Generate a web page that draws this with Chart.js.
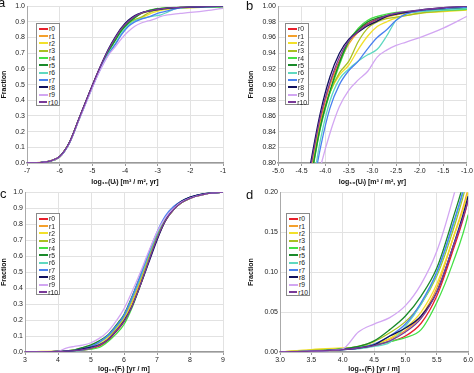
<!DOCTYPE html>
<html>
<head>
<meta charset="utf-8">
<script src="https://cdn.jsdelivr.net/npm/chart.js@4.4.0/dist/chart.umd.min.js"></script>
<style>
body { margin: 0; background: #fff; width: 474px; height: 373px; overflow: hidden; position: relative; font-family: "Liberation Sans", Arial, sans-serif; }
canvas { position: absolute; }
.letter { position: absolute; font-size: 13px; color: #111; line-height: 1; }
.legend { position: absolute; border: 1px solid #8a8a8a; background: #fff; box-sizing: border-box; padding: 1px 1px 0 2px; }
.row { height: 7.35px; display: flex; align-items: center; font-size: 6.8px; color: #222; white-space: nowrap; }
.sw { display: inline-block; width: 9px; height: 2px; margin-right: 1px; }
</style>
</head>
<body>
<canvas id="chartA" width="237" height="186" style="left:0;top:0"></canvas>
<canvas id="chartB" width="237" height="186" style="left:237px;top:0"></canvas>
<canvas id="chartC" width="237" height="187" style="left:0;top:186px"></canvas>
<canvas id="chartD" width="237" height="187" style="left:237px;top:186px"></canvas>
<div class="letter" style="left:-2px;top:-4px">a</div>
<div class="letter" style="left:246px;top:-1px">b</div>
<div class="letter" style="left:0;top:187px">c</div>
<div class="letter" style="left:246px;top:188px">d</div>
<script>
// ---------- SERIES ----------
const seriesNames = ['r0', 'r1', 'r2', 'r3', 'r4', 'r5', 'r6', 'r7', 'r8', 'r9', 'r10'];
const seriesColors = ['#e8202c', '#f5a02a', '#f2e02a', '#a8c020', '#44e044', '#1a8a2a',
                      '#5fd8c0', '#4a80f0', '#10105e', '#d2a6f2', '#7a3a98'];

// ---------- log10(U) data (panels a, b) ----------
const uX = [-7, -6.6, -6.3, -6.0, -5.7, -5.4, -5.1, -4.8, -4.5, -4.3, -4.1, -3.9, -3.7,
            -3.5, -3.3, -3.1, -2.9, -2.7, -2.5, -2.3, -2.0, -1.5, -1.0];
const u_r0 = [0, 0.003, 0.012, 0.04, 0.13, 0.285, 0.44, 0.59, 0.72, 0.79, 0.855, 0.9, 0.93, 0.955, 0.97, 0.978, 0.984, 0.988, 0.99, 0.992, 0.994, 0.997, 0.999];
const u_r1 = [0, 0.004, 0.013, 0.042, 0.132, 0.286, 0.44, 0.59, 0.72, 0.795, 0.858, 0.9, 0.928, 0.952, 0.967, 0.976, 0.982, 0.986, 0.989, 0.991, 0.993, 0.995, 0.996];
const u_r2 = [0, 0.003, 0.012, 0.04, 0.13, 0.284, 0.44, 0.588, 0.718, 0.79, 0.85, 0.89, 0.912, 0.925, 0.945, 0.962, 0.974, 0.98, 0.985, 0.988, 0.991, 0.993, 0.995];
const u_r3 = [0, 0.003, 0.012, 0.04, 0.13, 0.284, 0.438, 0.586, 0.715, 0.785, 0.848, 0.89, 0.915, 0.93, 0.955, 0.972, 0.98, 0.984, 0.986, 0.988, 0.991, 0.994, 0.996];
const u_r4 = [0, 0.003, 0.012, 0.04, 0.13, 0.284, 0.438, 0.586, 0.712, 0.78, 0.845, 0.89, 0.925, 0.955, 0.972, 0.982, 0.987, 0.99, 0.992, 0.993, 0.994, 0.995, 0.996];
const u_r5 = [0, 0.003, 0.012, 0.04, 0.13, 0.285, 0.44, 0.588, 0.714, 0.782, 0.847, 0.892, 0.928, 0.956, 0.97, 0.98, 0.985, 0.988, 0.99, 0.992, 0.994, 0.996, 0.998];
const u_r6 = [0, 0.003, 0.012, 0.04, 0.128, 0.282, 0.435, 0.582, 0.7, 0.76, 0.83, 0.879, 0.907, 0.92, 0.93, 0.938, 0.945, 0.962, 0.982, 0.99, 0.993, 0.995, 0.997];
const u_r7 = [0, 0.003, 0.012, 0.039, 0.127, 0.28, 0.432, 0.578, 0.695, 0.755, 0.82, 0.87, 0.9, 0.918, 0.93, 0.946, 0.96, 0.97, 0.982, 0.99, 0.994, 0.997, 0.999];
const u_r8 = [0, 0.003, 0.012, 0.041, 0.132, 0.288, 0.445, 0.595, 0.73, 0.803, 0.865, 0.91, 0.94, 0.958, 0.967, 0.975, 0.981, 0.987, 0.99, 0.992, 0.995, 0.998, 1.0];
const u_r9 = [0, 0.003, 0.012, 0.04, 0.128, 0.28, 0.43, 0.575, 0.69, 0.74, 0.795, 0.838, 0.872, 0.893, 0.906, 0.917, 0.935, 0.944, 0.95, 0.954, 0.96, 0.972, 0.987];
const u_r10 = [0, 0.003, 0.012, 0.041, 0.131, 0.287, 0.443, 0.593, 0.725, 0.797, 0.86, 0.903, 0.935, 0.956, 0.968, 0.977, 0.983, 0.988, 0.991, 0.993, 0.995, 0.998, 1.0];
const uSeries = [u_r0, u_r1, u_r2, u_r3, u_r4, u_r5, u_r6, u_r7, u_r8, u_r9, u_r10];

// ---------- log10(F) data (panels c, d) ----------
const fX = [3.0, 3.5, 4.0, 4.25, 4.5, 4.75, 5.0, 5.25, 5.5, 5.75, 6.0, 6.25, 6.5, 6.75,
            7.0, 7.25, 7.5, 7.75, 8.0, 8.5, 9.0];
const f_r0 = [0, 0.001, 0.004, 0.006, 0.009, 0.013, 0.02, 0.036, 0.07, 0.125, 0.19, 0.3, 0.43, 0.58, 0.71, 0.82, 0.89, 0.935, 0.962, 0.99, 1.0];
const f_r1 = [0, 0.002, 0.004, 0.006, 0.01, 0.016, 0.027, 0.045, 0.08, 0.14, 0.205, 0.31, 0.44, 0.59, 0.72, 0.83, 0.9, 0.94, 0.965, 0.991, 1.0];
const f_r2 = [0, 0.003, 0.005, 0.006, 0.01, 0.017, 0.03, 0.05, 0.085, 0.14, 0.2, 0.3, 0.42, 0.57, 0.71, 0.82, 0.89, 0.935, 0.962, 0.99, 1.0];
const f_r3 = [0, 0.002, 0.004, 0.007, 0.013, 0.024, 0.038, 0.06, 0.095, 0.15, 0.22, 0.33, 0.46, 0.6, 0.73, 0.83, 0.9, 0.94, 0.965, 0.991, 1.0];
const f_r4 = [0, 0.001, 0.004, 0.006, 0.009, 0.013, 0.018, 0.028, 0.062, 0.11, 0.172, 0.28, 0.42, 0.57, 0.71, 0.82, 0.89, 0.935, 0.962, 0.99, 1.0];
const f_r5 = [0, 0.001, 0.004, 0.007, 0.014, 0.028, 0.045, 0.07, 0.105, 0.165, 0.235, 0.35, 0.48, 0.62, 0.74, 0.84, 0.905, 0.945, 0.968, 0.992, 1.0];
const f_r6 = [0, 0.001, 0.003, 0.004, 0.007, 0.012, 0.032, 0.06, 0.098, 0.155, 0.225, 0.34, 0.47, 0.61, 0.74, 0.84, 0.9, 0.94, 0.965, 0.991, 1.0];
const f_r7 = [0, 0.001, 0.003, 0.005, 0.01, 0.02, 0.035, 0.062, 0.1, 0.158, 0.228, 0.345, 0.48, 0.62, 0.75, 0.85, 0.91, 0.945, 0.968, 0.992, 1.0];
const f_r8 = [0, 0.001, 0.003, 0.005, 0.009, 0.02, 0.03, 0.045, 0.075, 0.13, 0.195, 0.29, 0.42, 0.56, 0.7, 0.82, 0.9, 0.945, 0.97, 0.993, 1.0];
const f_r9 = [0, 0.001, 0.004, 0.025, 0.035, 0.043, 0.058, 0.085, 0.126, 0.19, 0.27, 0.38, 0.5, 0.63, 0.75, 0.84, 0.9, 0.94, 0.963, 0.99, 1.0];
const f_r10 = [0, 0.001, 0.003, 0.005, 0.008, 0.014, 0.025, 0.042, 0.075, 0.13, 0.19, 0.29, 0.42, 0.57, 0.71, 0.82, 0.89, 0.935, 0.962, 0.99, 1.0];
const fSeries = [f_r0, f_r1, f_r2, f_r3, f_r4, f_r5, f_r6, f_r7, f_r8, f_r9, f_r10];

// ---------- TICKS ----------
const ticksAX = [-7, -6, -5, -4, -3, -2, -1];
const ticksAY = [0, 0.1, 0.2, 0.3, 0.4, 0.5, 0.6, 0.7, 0.8, 0.9, 1.0];
const ticksBX = [-5, -4.5, -4, -3.5, -3, -2.5, -2, -1.5, -1];
const ticksBY = [0.80, 0.82, 0.84, 0.86, 0.88, 0.90, 0.92, 0.94, 0.96, 0.98, 1.00];
const ticksCX = [3, 4, 5, 6, 7, 8, 9];
const ticksCY = [0, 0.1, 0.2, 0.3, 0.4, 0.5, 0.6, 0.7, 0.8, 0.9, 1.0];
const ticksDX = [3, 3.5, 4, 4.5, 5, 5.5, 6];
const ticksDY = [0, 0.05, 0.10, 0.15, 0.20];

const titleU = 'log\u2081\u2080(U\u1d62) [m\u00b3 / m\u00b2, yr]';
const titleF = 'log\u2081\u2080(F\u1d62) [yr / m]';

const tickFont = { family: '"Liberation Sans", Arial, sans-serif', size: 7 };
const titleFont = { family: '"Liberation Sans", Arial, sans-serif', size: 7, weight: 'bold' };

// ---------- CHART BUILDER ----------
function makePanel(id, xs, series, cfg) {
    const datasets = series.map((ys, i) => ({
        label: seriesNames[i],
        data: xs.map((x, j) => ({ x: x, y: ys[j] })),
        borderColor: seriesColors[i],
        borderWidth: 1.3,
        pointRadius: 0,
        fill: false,
        cubicInterpolationMode: 'monotone',
        order: seriesNames.length - i
    }));

    new Chart(document.getElementById(id), {
        type: 'line',
        data: { datasets },
        options: {
            responsive: false,
            animation: false,
            layout: { padding: cfg.pad },
            plugins: { legend: { display: false }, tooltip: { enabled: false } },
            scales: {
                x: {
                    type: 'linear',
                    min: cfg.xTicks[0],
                    max: cfg.xTicks[cfg.xTicks.length - 1],
                    afterBuildTicks: s => { s.ticks = cfg.xTicks.map(v => ({ value: v })); },
                    afterFit: s => { s.height = cfg.xH; },
                    ticks: { callback: v => v.toFixed(cfg.xDec), font: tickFont, color: '#222', padding: 1, maxRotation: 0, autoSkip: false },
                    grid: { color: '#e2e2e2', tickLength: 3, tickColor: '#999' },
                    border: { color: '#999', width: 1.5 },
                    title: { display: true, text: cfg.xTitle, font: titleFont, color: '#111', padding: { top: 1, bottom: 0 } }
                },
                y: {
                    type: 'linear',
                    min: cfg.yTicks[0],
                    max: cfg.yTicks[cfg.yTicks.length - 1],
                    afterBuildTicks: s => { s.ticks = cfg.yTicks.map(v => ({ value: v })); },
                    afterFit: s => { s.width = cfg.yW; },
                    ticks: { callback: v => v.toFixed(cfg.yDec), font: tickFont, color: '#222', padding: 2 },
                    grid: { color: '#e2e2e2', tickLength: 0 },
                    border: { color: '#aaa', width: 1 },
                    title: { display: true, text: 'Fraction', font: titleFont, color: '#111', padding: { top: 0, bottom: 0 } }
                }
            }
        }
    });
}

// ---------- LEGEND ----------
function makeLegend(left, top, width, height) {
    const box = document.createElement('div');
    box.className = 'legend';
    box.style.left = left + 'px';
    box.style.top = top + 'px';
    box.style.width = width + 'px';
    box.style.height = height + 'px';
    seriesNames.forEach((name, i) => {
        const row = document.createElement('div');
        row.className = 'row';
        row.innerHTML = '<span class="sw" style="background:' + seriesColors[i] + '"></span>' + name;
        box.appendChild(row);
    });
    document.body.appendChild(box);
}

// ---------- START ----------
makePanel('chartA', uX, uSeries, { pad: { left: 0, right: 14, top: 3, bottom: 0 }, xH: 23, yW: 27,
    xTicks: ticksAX, yTicks: ticksAY, xDec: 0, yDec: 1, xTitle: titleU });
makePanel('chartB', uX, uSeries, { pad: { left: 10, right: 7, top: 3, bottom: 0 }, xH: 23, yW: 31,
    xTicks: ticksBX, yTicks: ticksBY, xDec: 1, yDec: 2, xTitle: titleU });
makePanel('chartC', fX, fSeries, { pad: { left: 0, right: 14, top: 6, bottom: 0 }, xH: 21, yW: 25,
    xTicks: ticksCX, yTicks: ticksCY, xDec: 0, yDec: 1, xTitle: titleF });
makePanel('chartD', fX, fSeries, { pad: { left: 10, right: 5, top: 6, bottom: 0 }, xH: 21, yW: 33,
    xTicks: ticksDX, yTicks: ticksDY, xDec: 1, yDec: 2, xTitle: titleF });

makeLegend(36, 23, 24, 83);
makeLegend(285, 23, 24, 82);
makeLegend(36, 213, 24, 82);
makeLegend(286, 213, 24, 83);
</script>
</body>
</html>
